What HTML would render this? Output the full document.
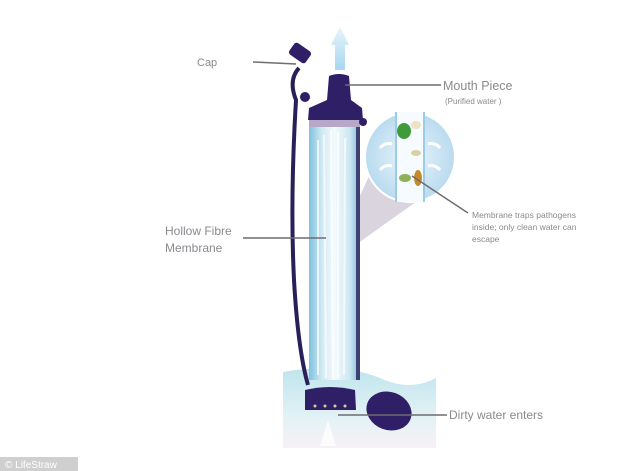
<!DOCTYPE html>
<html><head><meta charset="utf-8"><style>
html,body{margin:0;padding:0;background:#fff;}
svg{display:block}
text{font-family:"Liberation Sans",sans-serif;fill:#8a8a8f}
</style></head><body>
<svg width="634" height="471" viewBox="0 0 634 471" xmlns="http://www.w3.org/2000/svg">
<defs>
<linearGradient id="w" x1="0" y1="0" x2="0" y2="1">
<stop offset="0" stop-color="#bfe4ec"/><stop offset="0.6" stop-color="#e2f2f6"/><stop offset="1" stop-color="#f7f1f6"/></linearGradient>
<linearGradient id="t" x1="0" y1="0" x2="1" y2="0">
<stop offset="0" stop-color="#7fc1df"/><stop offset="0.25" stop-color="#cfe9f3"/><stop offset="0.5" stop-color="#f4fafc"/><stop offset="0.8" stop-color="#cde7f2"/><stop offset="1" stop-color="#7fb9d8"/></linearGradient>
<linearGradient id="a" x1="0" y1="1" x2="0" y2="0">
<stop offset="0" stop-color="#a9d6ef"/><stop offset="1" stop-color="#e6f4fb"/></linearGradient>
<radialGradient id="c" cx="0.5" cy="0.5" r="0.5"><stop offset="0" stop-color="#eaf5fb"/><stop offset="1" stop-color="#b9dbef"/></radialGradient>
</defs>
<path d="M283 372 Q340 362 380 378 Q410 392 436 378 L436 448 L283 448 Z" fill="url(#w)"/>
<polygon points="372,170 444,182 354,246 340,238" fill="#d3ccd9" opacity="0.85"/>
<polygon points="331,45 340,27 349,45 345,45 345,70 335,70 335,45" fill="url(#a)"/>
<path d="M299 68 Q288 80 296 100 Q290 200 294 280 Q298 350 308 385" fill="none" stroke="#2b1f5a" stroke-width="4"/>
<rect x="309" y="118" width="51" height="262" fill="url(#t)"/>
<path d="M318 140 L318 375 M324 135 L326 378 M331 130 L333 378 M338 132 L338 378 M345 138 L344 375" stroke="#fff" stroke-width="2" opacity="0.7"/>
<rect x="356" y="120" width="4" height="260" fill="#2b1f5a" opacity="0.8"/>
<rect x="309" y="118" width="51" height="9" fill="#b7a8c7"/>
<path d="M329 76 Q339 72 349 76 L351 100 L362 108 L363 120 L308 120 L309 108 L327 100 Z" fill="#2e1f66"/>
<circle cx="305" cy="97" r="5" fill="#2e1f66"/><circle cx="363" cy="122" r="4" fill="#2e1f66"/>
<rect x="290" y="46" width="20" height="14" rx="3" transform="rotate(35 300 53)" fill="#2e1f66"/>
<circle cx="410" cy="157" r="45" fill="url(#c)" stroke="#fff" stroke-width="2"/>
<rect x="396" y="112" width="28" height="90" fill="#f5fbfe"/>
<path d="M396 112 V202 M424 112 V202" stroke="#9ccbe6" stroke-width="2"/>
<ellipse cx="404" cy="131" rx="7" ry="8" fill="#3f9a3a"/>
<ellipse cx="416" cy="125" rx="5" ry="4" fill="#ede3c4"/>
<ellipse cx="416" cy="153" rx="5" ry="3" fill="#d8d0a6"/>
<ellipse cx="418" cy="178" rx="4" ry="8" fill="#c58a2c"/>
<ellipse cx="405" cy="178" rx="6" ry="4" fill="#8fb05a"/>
<path d="M380 148 q5 -6 12 -4 M380 170 q5 -6 12 -4 M428 144 q7 -2 12 4 M428 166 q7 -2 12 4" stroke="#fff" stroke-width="3" fill="none"/>
<path d="M305 390 Q330 384 355 390 L356 410 L305 410 Z" fill="#2e1f66"/>
<circle cx="315" cy="406" r="1.5" fill="#d8c9a0"/><circle cx="325" cy="406" r="1.5" fill="#d8c9a0"/><circle cx="335" cy="406" r="1.5" fill="#d8c9a0"/><circle cx="345" cy="406" r="1.5" fill="#d8c9a0"/>
<ellipse cx="389" cy="411" rx="23" ry="19" transform="rotate(20 389 411)" fill="#2e1f66"/>
<path d="M328 420 L336 446 L320 446 Z" fill="#fff" opacity="0.8"/>
<g stroke="#6d6d72" stroke-width="1.5" fill="none">
<path d="M253 62 L296 64"/><path d="M345 85 L441 85"/><path d="M412 176 L468 213"/><path d="M243 238 L326 238"/><path d="M338 415 L447 415"/>
</g>
<text x="197" y="66" font-size="11">Cap</text>
<text x="443" y="90" font-size="12.5">Mouth Piece</text>
<text x="445" y="104" font-size="8">(Purified water )</text>
<text x="472" y="218" font-size="8.5">Membrane traps pathogens</text>
<text x="472" y="230" font-size="8.5">inside; only clean water can</text>
<text x="472" y="242" font-size="8.5">escape</text>
<text x="165" y="235" font-size="12">Hollow Fibre</text>
<text x="165" y="252" font-size="12">Membrane</text>
<text x="449" y="419" font-size="12">Dirty water enters</text>
<rect x="0" y="457" width="78" height="14" fill="#cfcfcf"/>
<text x="5" y="468" font-size="10" style="fill:#fff">© LifeStraw</text>
</svg>
</body></html>
